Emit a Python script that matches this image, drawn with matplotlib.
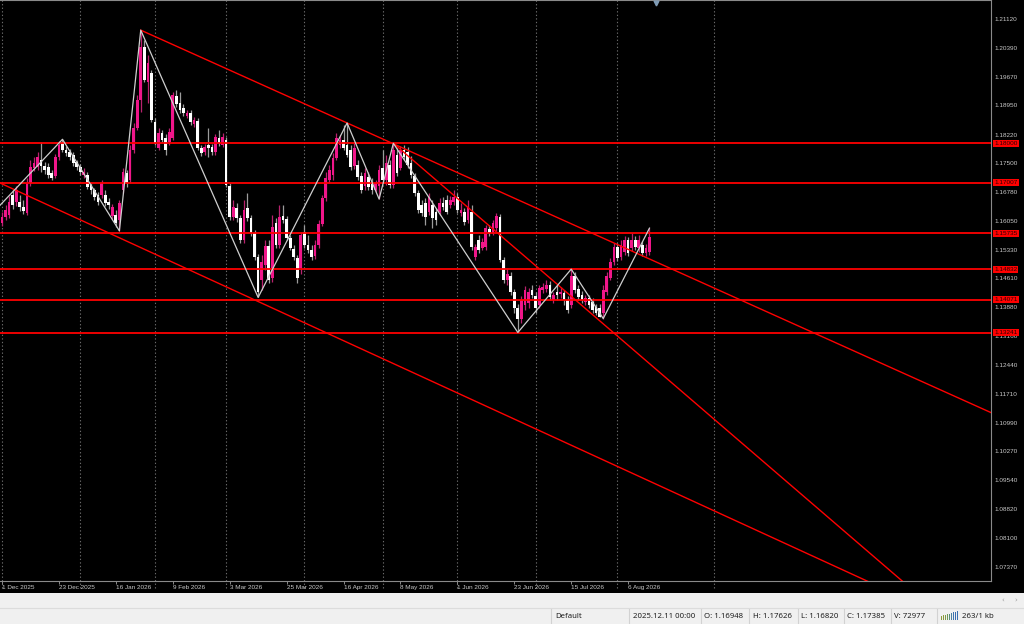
import matplotlib
matplotlib.use("Agg")
import matplotlib.pyplot as plt
import numpy as np
import pandas as pd
from matplotlib.patches import Rectangle
from matplotlib.lines import Line2D

# ---------------- data (daily EURUSD-like candles) ----------------
opens = [
    1.1599, 1.1614, 1.1619, 1.1670, 1.1652, 1.1652, 1.1639, 1.1624, 1.1700, 1.1737,
    1.1740, 1.1758, 1.1742, 1.1740, 1.1725, 1.1717, 1.1765, 1.1803, 1.1783, 1.1778,
    1.1770, 1.1753, 1.1740, 1.1720, 1.1720, 1.1695, 1.1682, 1.1670, 1.1670, 1.1670,
    1.1652, 1.1617, 1.1619, 1.1607, 1.1682, 1.1725, 1.1707, 1.1783, 1.1838, 1.1908,
    1.2042, 1.1954, 1.1976, 1.1853, 1.1788, 1.1825, 1.1813, 1.1803, 1.1813, 1.1918,
    1.1901, 1.1888, 1.1868, 1.1876, 1.1848, 1.1856, 1.1788, 1.1778, 1.1795, 1.1790,
    1.1778, 1.1813, 1.1795, 1.1808, 1.1692, 1.1614, 1.1637, 1.1612, 1.1556, 1.1637,
    1.1612, 1.1574, 1.1514, 1.1456, 1.1494, 1.1541, 1.1461, 1.1599, 1.1544, 1.1617,
    1.1609, 1.1561, 1.1534, 1.1511, 1.1486, 1.1577, 1.1544, 1.1531, 1.1516, 1.1544,
    1.1597, 1.1662, 1.1707, 1.1720, 1.1763, 1.1795, 1.1808, 1.1795, 1.1783, 1.1742,
    1.1745, 1.1717, 1.1692, 1.1715, 1.1700, 1.1682, 1.1692, 1.1737, 1.1707, 1.1745,
    1.1695, 1.1770, 1.1737, 1.1783, 1.1778, 1.1750, 1.1717, 1.1675, 1.1644, 1.1649,
    1.1627, 1.1644, 1.1627, 1.1627, 1.1649, 1.1657, 1.1644, 1.1652, 1.1665, 1.1624,
    1.1627, 1.1607, 1.1627, 1.1514, 1.1556, 1.1536, 1.1539, 1.1584, 1.1574, 1.1587,
    1.1614, 1.1506, 1.1456, 1.1468, 1.1426, 1.1386, 1.1360, 1.1393, 1.1398, 1.1431,
    1.1416, 1.1393, 1.1431, 1.1433, 1.1443, 1.1406, 1.1426, 1.1421, 1.1423, 1.1406,
    1.1393, 1.1466, 1.1433, 1.1418, 1.1401, 1.1411, 1.1401, 1.1388, 1.1386, 1.1373,
    1.1426, 1.1463, 1.1501, 1.1539, 1.1514, 1.1526, 1.1556, 1.1536, 1.1556, 1.1536,
    1.1544, 1.1524, 1.1526,
]
highs = [
    1.1627, 1.1644, 1.1667, 1.1682, 1.1692, 1.1670, 1.1657, 1.1712, 1.1758, 1.1765,
    1.1778, 1.1803, 1.1753, 1.1750, 1.1732, 1.1773, 1.1805, 1.1810, 1.1793, 1.1785,
    1.1778, 1.1758, 1.1748, 1.1737, 1.1727, 1.1700, 1.1687, 1.1677, 1.1707, 1.1682,
    1.1662, 1.1647, 1.1632, 1.1657, 1.1737, 1.1732, 1.1795, 1.1851, 1.1921, 1.2084,
    1.2059, 1.2022, 1.1984, 1.1863, 1.1838, 1.1833, 1.1823, 1.1838, 1.1928, 1.1934,
    1.1928, 1.1898, 1.1883, 1.1883, 1.1866, 1.1863, 1.1795, 1.1798, 1.1838, 1.1798,
    1.1823, 1.1833, 1.1825, 1.1815, 1.1700, 1.1657, 1.1649, 1.1619, 1.1657, 1.1675,
    1.1619, 1.1582, 1.1521, 1.1519, 1.1556, 1.1556, 1.1619, 1.1612, 1.1644, 1.1644,
    1.1617, 1.1569, 1.1544, 1.1519, 1.1577, 1.1594, 1.1569, 1.1544, 1.1556, 1.1607,
    1.1670, 1.1727, 1.1745, 1.1775, 1.1825, 1.1820, 1.1846, 1.1851, 1.1795, 1.1800,
    1.1758, 1.1727, 1.1737, 1.1727, 1.1712, 1.1707, 1.1745, 1.1783, 1.1770, 1.1758,
    1.1800, 1.1788, 1.1793, 1.1795, 1.1790, 1.1768, 1.1725, 1.1682, 1.1657, 1.1662,
    1.1675, 1.1657, 1.1637, 1.1662, 1.1665, 1.1670, 1.1667, 1.1682, 1.1675, 1.1649,
    1.1637, 1.1657, 1.1644, 1.1546, 1.1569, 1.1561, 1.1594, 1.1594, 1.1607, 1.1624,
    1.1622, 1.1514, 1.1486, 1.1476, 1.1433, 1.1396, 1.1416, 1.1441, 1.1436, 1.1443,
    1.1426, 1.1443, 1.1448, 1.1456, 1.1453, 1.1426, 1.1443, 1.1438, 1.1431, 1.1416,
    1.1484, 1.1476, 1.1443, 1.1428, 1.1418, 1.1418, 1.1411, 1.1396, 1.1396, 1.1443,
    1.1476, 1.1511, 1.1549, 1.1549, 1.1556, 1.1567, 1.1564, 1.1574, 1.1567, 1.1569,
    1.1554, 1.1546, 1.1587,
]
lows = [
    1.1592, 1.1607, 1.1612, 1.1634, 1.1642, 1.1629, 1.1622, 1.1619, 1.1692, 1.1730,
    1.1732, 1.1727, 1.1722, 1.1712, 1.1707, 1.1712, 1.1758, 1.1778, 1.1768, 1.1758,
    1.1742, 1.1732, 1.1720, 1.1712, 1.1685, 1.1672, 1.1657, 1.1644, 1.1662, 1.1642,
    1.1634, 1.1609, 1.1590, 1.1580, 1.1675, 1.1690, 1.1700, 1.1775, 1.1833, 1.1878,
    1.1954, 1.1901, 1.1853, 1.1795, 1.1783, 1.1803, 1.1770, 1.1795, 1.1808, 1.1891,
    1.1876, 1.1868, 1.1863, 1.1846, 1.1840, 1.1783, 1.1768, 1.1770, 1.1765, 1.1770,
    1.1770, 1.1793, 1.1790, 1.1690, 1.1607, 1.1607, 1.1602, 1.1549, 1.1549, 1.1604,
    1.1567, 1.1506, 1.1413, 1.1431, 1.1481, 1.1448, 1.1451, 1.1536, 1.1536, 1.1599,
    1.1556, 1.1531, 1.1506, 1.1448, 1.1473, 1.1536, 1.1524, 1.1506, 1.1509, 1.1536,
    1.1592, 1.1654, 1.1700, 1.1707, 1.1758, 1.1788, 1.1783, 1.1765, 1.1732, 1.1735,
    1.1707, 1.1675, 1.1682, 1.1682, 1.1672, 1.1677, 1.1660, 1.1700, 1.1695, 1.1687,
    1.1687, 1.1717, 1.1732, 1.1758, 1.1737, 1.1712, 1.1667, 1.1624, 1.1617, 1.1594,
    1.1619, 1.1587, 1.1594, 1.1619, 1.1632, 1.1622, 1.1637, 1.1644, 1.1624, 1.1617,
    1.1594, 1.1599, 1.1531, 1.1506, 1.1524, 1.1531, 1.1531, 1.1567, 1.1569, 1.1579,
    1.1501, 1.1448, 1.1443, 1.1418, 1.1375, 1.1325, 1.1350, 1.1381, 1.1386, 1.1411,
    1.1375, 1.1386, 1.1423, 1.1426, 1.1406, 1.1398, 1.1406, 1.1411, 1.1393, 1.1373,
    1.1386, 1.1423, 1.1406, 1.1398, 1.1393, 1.1386, 1.1373, 1.1368, 1.1363, 1.1360,
    1.1418, 1.1456, 1.1494, 1.1504, 1.1506, 1.1519, 1.1516, 1.1529, 1.1531, 1.1526,
    1.1516, 1.1516, 1.1519,
]
closes = [
    1.1614, 1.1632, 1.1652, 1.1644, 1.1682, 1.1639, 1.1629, 1.1700, 1.1740, 1.1750,
    1.1765, 1.1742, 1.1732, 1.1720, 1.1712, 1.1765, 1.1795, 1.1783, 1.1775, 1.1765,
    1.1750, 1.1740, 1.1727, 1.1727, 1.1690, 1.1682, 1.1665, 1.1652, 1.1700, 1.1649,
    1.1644, 1.1639, 1.1599, 1.1649, 1.1727, 1.1700, 1.1783, 1.1838, 1.1908, 1.2042,
    1.1959, 1.2001, 1.1858, 1.1800, 1.1825, 1.1808, 1.1783, 1.1828, 1.1921, 1.1898,
    1.1883, 1.1876, 1.1876, 1.1853, 1.1858, 1.1788, 1.1775, 1.1790, 1.1788, 1.1778,
    1.1815, 1.1800, 1.1815, 1.1695, 1.1614, 1.1639, 1.1612, 1.1556, 1.1632, 1.1612,
    1.1574, 1.1514, 1.1426, 1.1501, 1.1541, 1.1456, 1.1589, 1.1544, 1.1614, 1.1607,
    1.1561, 1.1536, 1.1514, 1.1463, 1.1569, 1.1544, 1.1531, 1.1514, 1.1544, 1.1597,
    1.1662, 1.1712, 1.1732, 1.1763, 1.1813, 1.1808, 1.1788, 1.1770, 1.1740, 1.1788,
    1.1715, 1.1682, 1.1725, 1.1690, 1.1682, 1.1700, 1.1732, 1.1707, 1.1750, 1.1695,
    1.1783, 1.1725, 1.1783, 1.1765, 1.1745, 1.1720, 1.1675, 1.1632, 1.1624, 1.1614,
    1.1665, 1.1612, 1.1607, 1.1649, 1.1639, 1.1627, 1.1657, 1.1665, 1.1632, 1.1632,
    1.1602, 1.1639, 1.1539, 1.1539, 1.1531, 1.1551, 1.1587, 1.1574, 1.1599, 1.1617,
    1.1506, 1.1456, 1.1473, 1.1426, 1.1386, 1.1360, 1.1406, 1.1431, 1.1426, 1.1418,
    1.1386, 1.1436, 1.1438, 1.1443, 1.1413, 1.1418, 1.1418, 1.1426, 1.1406, 1.1381,
    1.1466, 1.1431, 1.1413, 1.1406, 1.1411, 1.1393, 1.1381, 1.1375, 1.1365, 1.1431,
    1.1466, 1.1501, 1.1539, 1.1511, 1.1544, 1.1556, 1.1524, 1.1556, 1.1539, 1.1556,
    1.1524, 1.1536, 1.1564,
]

# trading calendar (daily bars, Christmas and New Year closed)
start_date = "2025-12-01"
closed_days = ["2025-12-25", "2026-01-01"]
label_every = 16
future_separator_bars = [200]

# horizontal price levels
h_levels = [1.18000, 1.17007, 1.15735, 1.14832, 1.14071, 1.13241]

# ZigZag vertices (bar index, price)
zz_bars = [-6, 17, 33, 39, 72, 97, 106, 110, 145, 160, 169, 182]
zz_prices = [1.1593, 1.1810, 1.1580, 1.2084, 1.1413, 1.1851, 1.1660, 1.1800,
             1.1325, 1.1484, 1.1360, 1.1587]

# trend lines: two anchors each (bar, price), drawn as rays to the right
trend_lines = [
    ((39, 1.2084), (97, 1.1851), False),   # upper falling line
    ((110, 1.1800), (173, 1.1316), False),  # steep line
    ((0, 1.1698), (240, 1.0714), True),     # lower channel line (extends left)
]

# price axis ticks
y_ticks = [1.21120, 1.20390, 1.19670, 1.18950, 1.18220, 1.17500, 1.16780, 1.16050,
           1.15330, 1.14610, 1.13880, 1.13160, 1.12440, 1.11710, 1.10990, 1.10270,
           1.09540, 1.08820, 1.08100, 1.07370]

# status bar
status_texts = ["Default", "2025.12.11 00:00", "O: 1.16948", "H: 1.17626",
                "L: 1.16820", "C: 1.17385", "V: 72977", "263/1 kb"]

# ---------------- styles ----------------
PINK = "#f0168a"
PINK_WICK = "#b8226e"
WHITE = "#ffffff"
WHITE_WICK = "#9c9c9c"
RED = "#ff0000"
GRID = "#6a6a6a"
AXCOL = "#c8c8c8"
BORDER = "#8a8a8a"

W, H = 1024, 624
fig = plt.figure(figsize=(W / 100, H / 100), dpi=100, facecolor="black")
ax_bottom_px = 581
plot_right_px = 991
ax = fig.add_axes([0, (H - ax_bottom_px) / H, plot_right_px / W, ax_bottom_px / H])
ax.set_facecolor("black")

o = np.array(opens); hi = np.array(highs); lo = np.array(lows); c = np.array(closes)
idx = np.arange(len(o))
up = c >= o

# calendar
dates = pd.bdate_range(start=start_date, periods=260, freq="C", holidays=closed_days)

# month separators
sep_bars = [0] + [i for i in range(1, len(o)) if dates[i].month != dates[i - 1].month]
sep_bars += future_separator_bars
for b in sep_bars:
    ax.axvline(b, ymin=-0.012, ymax=1, color=GRID, lw=0.8, ls=(0, (1.2, 2.0)),
               zorder=1, clip_on=False)

# candles
ax.vlines(idx[up], lo[up], hi[up], colors=PINK_WICK, lw=0.9, zorder=3)
ax.vlines(idx[~up], lo[~up], hi[~up], colors=WHITE_WICK, lw=0.9, zorder=3)
body_h = np.maximum(np.abs(c - o), 0.00012)
body_b = np.minimum(o, c)
ax.bar(idx[up], body_h[up], bottom=body_b[up], width=0.76, color=PINK, lw=0, zorder=4)
ax.bar(idx[~up], body_h[~up], bottom=body_b[~up], width=0.76, color=WHITE, lw=0, zorder=4)

x_min, x_max = -0.562, 278.0
y_min, y_max = 1.07011, 1.21597
ax.set_xlim(x_min, x_max)
ax.set_ylim(y_min, y_max)

# horizontal levels
for lv in h_levels:
    ax.axhline(lv, color=RED, lw=1.3, zorder=6)

# trend lines
for (b1, p1), (b2, p2), ext_left in trend_lines:
    slope = (p2 - p1) / (b2 - b1)
    xs = np.array([x_min - 5 if ext_left else b1, x_max + 5])
    ax.plot(xs, p1 + (xs - b1) * slope, color=RED, lw=1.0, zorder=6)

# zigzag
ax.plot(zz_bars, zz_prices, color="#cfcfcf", lw=0.9, zorder=7)

# spines
for s in ["left"]:
    ax.spines[s].set_visible(False)
for s in ["right", "bottom", "top"]:
    ax.spines[s].set_color(BORDER)
    ax.spines[s].set_linewidth(0.8)

# price axis
ax.yaxis.tick_right()
ax.set_yticks(y_ticks)
ax.set_yticklabels([f"{v:.5f}" for v in y_ticks])
ax.tick_params(axis="y", length=0, pad=2.2, labelsize=4.6, labelcolor=AXCOL)
for t in ax.get_yticklabels():
    t.set_family("Liberation Sans")

# time axis
lab_bars = list(range(0, len(o), label_every))
ax.set_xticks(lab_bars)
ax.set_xticklabels([f"{dates[b].day} {dates[b]:%b %Y}" for b in lab_bars])
ax.tick_params(axis="x", length=2.2, width=0.7, color=BORDER, pad=0.6,
               labelsize=4.6, labelcolor=AXCOL)
for t in ax.get_xticklabels():
    t.set_ha("left")
    t.set_family("Liberation Sans")

# price labels of horizontal levels
for lv in h_levels:
    ax.annotate(f"{lv:.5f}", xy=(1, lv), xycoords=("axes fraction", "data"),
                xytext=(2.3, 0), textcoords="offset points", va="center", ha="left",
                fontsize=4.6, color="#2a0000", family="Liberation Sans",
                bbox=dict(boxstyle="square,pad=0.18", fc=RED, ec="none"),
                annotation_clip=False, zorder=10)

# chart-shift marker at top
ax.plot([656 / plot_right_px], [0.994], marker="v", ms=3.5, color="#7f9bb5",
        transform=ax.transAxes, clip_on=False, zorder=10)

# ---------------- status bar ----------------
fig.add_artist(Rectangle((0, 0), 1, 31 / H, transform=fig.transFigure,
                         fc="#f0f0f0", ec="none", zorder=1))
fig.add_artist(Line2D([0, 1], [16 / H, 16 / H], transform=fig.transFigure,
                      color="#dcdcdc", lw=0.8, zorder=2))
sep_px = [551, 629, 701, 749, 798, 844, 891, 937]
for sx in sep_px:
    fig.add_artist(Line2D([sx / W, sx / W], [0, 15 / H], transform=fig.transFigure,
                          color="#d2d2d2", lw=0.8, zorder=2))
text_px = [555, 633, 704, 753, 801, 847, 894, 962]
for tx, s in zip(text_px, status_texts):
    fig.text(tx / W, 7.5 / H, s, fontsize=5.6, family="Noto Sans", color="#1e1e1e",
             va="center", ha="left", zorder=3)
# connection icon
icon_cols = ["#8a9a3c", "#8a9a3c", "#7f9a44", "#6f9a56", "#5a8e78",
             "#4a80a0", "#3f74b0", "#3a6eb0", "#3a6eb0"]
for k, col in enumerate(icon_cols):
    hgt = 4 + k * 0.6
    fig.add_artist(Rectangle(((941 + k * 2) / W, 4 / H), 1.3 / W, hgt / H,
                             transform=fig.transFigure, fc=col, ec="none", zorder=3))
fig.text(1003 / W, 24 / H, "\u2039", fontsize=5, color="#9a9a9a", ha="center", va="center")
fig.text(1016 / W, 24 / H, "\u203a", fontsize=5, color="#9a9a9a", ha="center", va="center")

fig.savefig("out.png", dpi=100, facecolor="black")
